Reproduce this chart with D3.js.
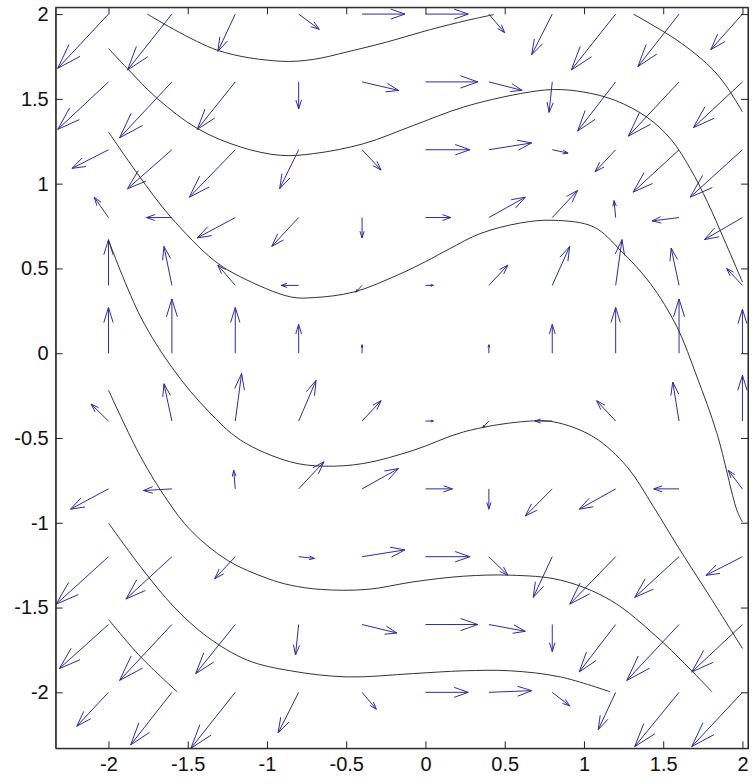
<!DOCTYPE html>
<html>
<head>
<meta charset="utf-8">
<script src="https://cdnjs.cloudflare.com/ajax/libs/d3/7.8.5/d3.min.js"></script>
<style>
  body { margin: 0; background: #fff; }
</style>
</head>
<body>
<div id="chart"></div>
<script>
// grid of arrow tails
var xs = [-2, -1.6, -1.2, -0.8, -0.4, 0, 0.4, 0.8, 1.2, 1.6, 2];
var ys = [2, 1.6, 1.2, 0.8, 0.4, 0, -0.4, -0.8, -1.2, -1.6, -2];

// arrow components (data units), one row per y in ys
var U = [
  [-0.32, -0.28, -0.11,  0.13,  0.27, 0.27,  0.10, -0.13, -0.28, -0.26, -0.20],
  [-0.32, -0.33, -0.24,  0.00,  0.23, 0.33,  0.21, -0.02, -0.24, -0.32, -0.31],
  [-0.23, -0.28, -0.29, -0.12,  0.12, 0.28,  0.27,  0.10, -0.13, -0.29, -0.33],
  [-0.09, -0.16, -0.24, -0.17,  0.00, 0.16,  0.23,  0.16, -0.01, -0.17, -0.24],
  [ 0.00, -0.05, -0.11, -0.11, -0.04, 0.05,  0.12,  0.11,  0.04, -0.05, -0.10],
  [ 0.00,  0.00,  0.00,  0.00,  0.00, 0.00,  0.00,  0.00,  0.00,  0.00,  0.00],
  [-0.11, -0.05,  0.04,  0.11,  0.12, 0.05, -0.04, -0.11, -0.12, -0.04,  0.00],
  [-0.24, -0.18, -0.01,  0.16,  0.23, 0.17,  0.00, -0.17, -0.23, -0.16, -0.09],
  [-0.33, -0.29, -0.13,  0.10,  0.27, 0.28,  0.12, -0.12, -0.29, -0.28, -0.23],
  [-0.31, -0.33, -0.25, -0.02,  0.22, 0.33,  0.23,  0.00, -0.23, -0.33, -0.32],
  [-0.20, -0.26, -0.28, -0.13,  0.09, 0.27,  0.27,  0.11, -0.11, -0.28, -0.32]
];
var V = [
  [-0.32, -0.33, -0.22, -0.09,  0.00, 0.00, -0.11, -0.24, -0.33, -0.31, -0.21],
  [-0.28, -0.33, -0.28, -0.16, -0.05, 0.00, -0.05, -0.18, -0.29, -0.32, -0.27],
  [-0.11, -0.23, -0.28, -0.23, -0.12, 0.00,  0.04, -0.02, -0.13, -0.25, -0.28],
  [ 0.12,  0.00, -0.12, -0.17, -0.12, 0.00,  0.12,  0.16,  0.10, -0.02, -0.13],
  [ 0.27,  0.23,  0.12,  0.00, -0.04, 0.00,  0.12,  0.23,  0.27,  0.22,  0.10],
  [ 0.27,  0.32,  0.27,  0.17,  0.05, 0.00,  0.05,  0.17,  0.27,  0.32,  0.26],
  [ 0.10,  0.22,  0.28,  0.24,  0.12, 0.00, -0.04,  0.00,  0.12,  0.23,  0.27],
  [-0.12, -0.01,  0.11,  0.16,  0.12, 0.00, -0.12, -0.16, -0.12,  0.00,  0.11],
  [-0.28, -0.25, -0.13, -0.01,  0.04, 0.00, -0.11, -0.24, -0.28, -0.24, -0.11],
  [-0.26, -0.33, -0.29, -0.18, -0.05, 0.00, -0.04, -0.16, -0.28, -0.33, -0.28],
  [-0.20, -0.31, -0.33, -0.24, -0.10, 0.00,  0.01, -0.08, -0.22, -0.32, -0.32]
];

// solution curves, [x, y] points
var curveA = [[-1.755,2.0],[-1.313,1.787],[-0.914,1.722],[-0.706,1.733],[-0.494,1.777],[-0.241,1.836],[0.032,1.909],[0.263,1.963],[0.431,1.997]];
var curveB = [[-2.0,1.797],[-1.881,1.679],[-1.692,1.502],[-1.439,1.325],[-1.166,1.216],[-0.914,1.167],[-0.706,1.177],[-0.389,1.236],[-0.074,1.344],[0.241,1.452],[0.599,1.531],[0.809,1.555],[1.0,1.54],[1.2,1.49],[1.4,1.39],[1.55,1.26],[1.67,1.09],[1.78,0.89],[1.88,0.68],[1.94,0.55],[2.0,0.42]];
var curveC = [[-2.0,1.305],[-1.818,1.06],[-1.608,0.804],[-1.335,0.548],[-1.166,0.45],[-0.851,0.332],[-0.704,0.328],[-0.452,0.361],[-0.178,0.46],[0.0,0.54],[0.15,0.615],[0.347,0.706],[0.599,0.768],[0.809,0.784],[1.061,0.745],[1.23,0.607],[1.419,0.411],[1.587,0.155],[1.713,-0.14],[1.839,-0.473],[1.965,-0.926],[2.0,-0.995]];
var curveD = [[-2.0,0.666],[-1.797,0.214],[-1.587,-0.1],[-1.376,-0.336],[-1.166,-0.513],[-0.851,-0.641],[-0.641,-0.666],[-0.389,-0.65],[-0.074,-0.572],[0.241,-0.464],[0.599,-0.405],[0.809,-0.405],[1.061,-0.494],[1.272,-0.67],[1.439,-0.906],[1.587,-1.132],[1.797,-1.439],[2.0,-1.741]];
var curveE = [[-2.0,-0.218],[-1.797,-0.611],[-1.629,-0.867],[-1.482,-1.044],[-1.25,-1.221],[-0.998,-1.328],[-0.851,-1.368],[-0.662,-1.393],[-0.368,-1.393],[-0.074,-1.348],[0.241,-1.315],[0.536,-1.309],[0.851,-1.338],[1.166,-1.456],[1.482,-1.692],[1.808,-1.997]];
var curveF = [[-2.0,-1.001],[-1.797,-1.26],[-1.587,-1.496],[-1.376,-1.673],[-1.124,-1.81],[-0.851,-1.873],[-0.494,-1.909],[-0.074,-1.889],[0.241,-1.873],[0.536,-1.873],[0.851,-1.909],[1.166,-1.997]];
var curveG = [[-2.0,-1.57],[-1.797,-1.791],[-1.566,-1.997]];
var curveH = [[1.313,1.999],[1.587,1.846],[1.797,1.688],[1.902,1.57],[2.0,1.423]];

var tickVals = [-2, -1.5, -1, -0.5, 0, 0.5, 1, 1.5, 2];

var svg_width = 754;
var svg_height = 784;

var svg = d3.select("#chart").append("svg")
    .attr("width", svg_width)
    .attr("height", svg_height);

var x = d3.scaleLinear().domain([-2.333, 2.035]).range([55.7, 748]);
var y = d3.scaleLinear().domain([-2.33, 2.04]).range([748.3, 7.3]);

// arrows first, like quiver does
var arrows = [];
ys.forEach(function(yv, i) {
    xs.forEach(function(xv, j) {
        arrows.push({x: xv, y: yv, u: U[i][j], v: V[i][j]});
    });
});

var alpha = 0.33, beta = 0.33;

function arrowPath(d) {
    if (d.u === 0 && d.v === 0) return "";
    var tx = d.x + d.u, ty = d.y + d.v;
    var h1x = tx - alpha * (d.u + beta * d.v);
    var h1y = ty - alpha * (d.v - beta * d.u);
    var h2x = tx - alpha * (d.u - beta * d.v);
    var h2y = ty - alpha * (d.v + beta * d.u);
    return "M" + x(d.x) + "," + y(d.y) + "L" + x(tx) + "," + y(ty) +
        "M" + x(h1x) + "," + y(h1y) + "L" + x(tx) + "," + y(ty) + "L" + x(h2x) + "," + y(h2y);
}

svg.append("g")
    .attr("class", "arrows")
    .selectAll("path")
    .data(arrows)
    .enter().append("path")
    .attr("d", arrowPath)
    .attr("fill", "none")
    .attr("stroke", "#2c2ca6")
    .attr("stroke-width", 1);

// solution curves
var line = d3.line()
    .x(function(d) { return x(d[0]); })
    .y(function(d) { return y(d[1]); })
    .curve(d3.curveCatmullRom);

svg.append("g")
    .selectAll("path")
    .data([curveA, curveB, curveC, curveD, curveE, curveF, curveG, curveH])
    .enter().append("path")
    .attr("d", line)
    .attr("fill", "none")
    .attr("stroke", "#333")
    .attr("stroke-width", 1);

// axes, ticks pointing inward like matlab
var fmt = function(d) { return String(d); };

svg.append("g")
    .attr("transform", "translate(0," + y.range()[0] + ")")
    .call(d3.axisBottom(x).tickValues(tickVals).tickFormat(fmt).tickSizeInner(-7).tickSizeOuter(0).tickPadding(9));

svg.append("g")
    .attr("transform", "translate(" + x.range()[0] + ",0)")
    .call(d3.axisLeft(y).tickValues(tickVals).tickFormat(fmt).tickSizeInner(-7).tickSizeOuter(0).tickPadding(7));

svg.append("g")
    .attr("transform", "translate(0," + y.range()[1] + ")")
    .call(d3.axisTop(x).tickValues(tickVals).tickFormat("").tickSizeInner(-7).tickSizeOuter(0));

svg.append("g")
    .attr("transform", "translate(" + x.range()[1] + ",0)")
    .call(d3.axisRight(y).tickValues(tickVals).tickFormat("").tickSizeInner(-7).tickSizeOuter(0));

svg.selectAll(".domain").attr("stroke", "#222");
svg.selectAll(".tick line").attr("stroke", "#222");
svg.selectAll(".tick text")
    .style("font-family", "'Liberation Sans', Arial, sans-serif")
    .style("font-size", "20px")
    .style("fill", "#111");

// box
svg.append("rect")
    .attr("x", x.range()[0])
    .attr("y", y.range()[1])
    .attr("width", x.range()[1] - x.range()[0])
    .attr("height", y.range()[0] - y.range()[1])
    .attr("fill", "none")
    .attr("stroke", "#222")
    .attr("stroke-width", 1);
</script>
</body>
</html>
